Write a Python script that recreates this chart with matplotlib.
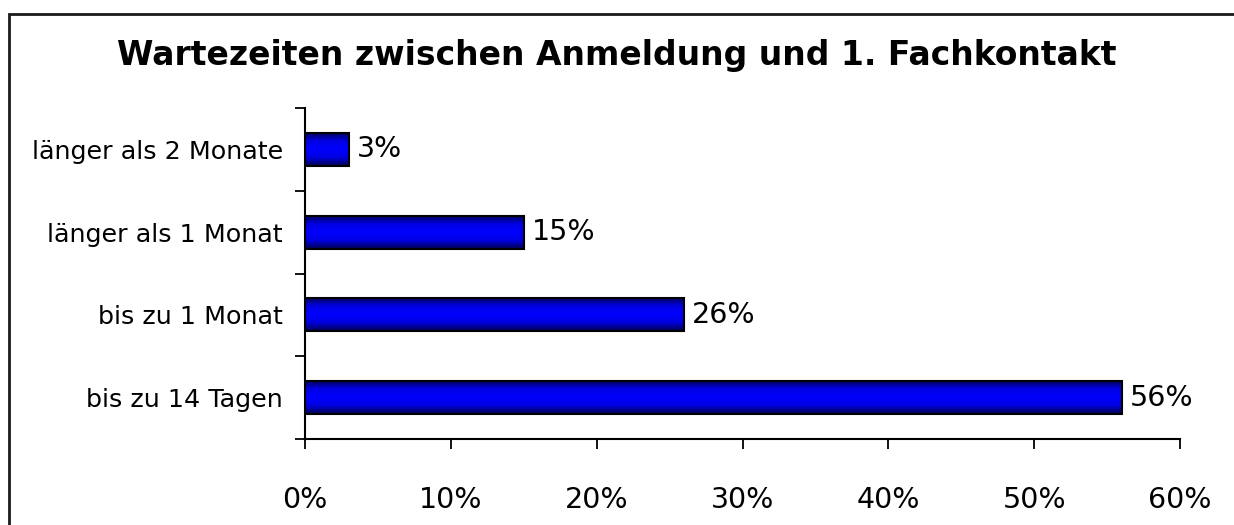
import numpy as np
import matplotlib
matplotlib.use("Agg")
import matplotlib.pyplot as plt
from matplotlib.patches import Rectangle
from matplotlib.colors import LinearSegmentedColormap

categories = ["bis zu 14 Tagen", "bis zu 1 Monat", "länger als 1 Monat", "länger als 2 Monate"]
values = [56, 26, 15, 3]
xticks = [0, 10, 20, 30, 40, 50, 60]
title = "Wartezeiten zwischen Anmeldung und 1. Fachkontakt"

W, H = 1234, 525
fig = plt.figure(figsize=(W / 100, H / 100), dpi=100)
fig.patch.set_facecolor("white")

# outer chart border (cut off at right and bottom like in the reference)
fig.add_artist(Rectangle((8.5 / W, -0.1), 1.2, (H - 13.5) / H + 0.1,
                         transform=fig.transFigure, fill=False,
                         edgecolor="#1a1a1a", linewidth=2.0))

left, right, top, bottom = 305, 1180, 108, 439
ax = fig.add_axes([left / W, 1 - bottom / H, (right - left) / W, (bottom - top) / H])

ypos = np.arange(len(categories))
bh = 0.4
cmap = LinearSegmentedColormap.from_list("g", ["#000050", "#0000e0", "#0000ff", "#0000e0", "#000050"])
grad = np.linspace(0, 1, 64).reshape(-1, 1)
for y, v in zip(ypos, values):
    ax.imshow(grad, cmap=cmap, aspect="auto", extent=(0, v, y - bh / 2, y + bh / 2),
              origin="lower", zorder=2, interpolation="bilinear")
    ax.barh(y, v, height=bh, facecolor="none", edgecolor="black", linewidth=1.5, zorder=3)
    ax.text(v + 0.55, y, f"{v}%", va="center", ha="left", fontsize=20.5, zorder=4)

ax.set_xlim(0, 60)
ax.set_ylim(-0.5, len(categories) - 0.5)
ax.set_xticks(xticks)
ax.set_xticklabels([f"{t}%" for t in xticks], fontsize=20.5)
ax.set_yticks(ypos)
ax.set_yticklabels(categories, fontsize=18.3)
ax.set_yticks(np.arange(-0.5, len(categories)), minor=True)
ax.tick_params(axis="y", which="major", length=0, pad=16)
ax.tick_params(axis="y", which="minor", length=7, width=1.3, direction="out")
ax.tick_params(axis="x", which="major", length=7, width=1.3, direction="out", pad=27)
for s in ["top", "right"]:
    ax.spines[s].set_visible(False)
for s in ["left", "bottom"]:
    ax.spines[s].set_linewidth(1.5)
ax.set_facecolor("white")

fig.text(617 / W, 1 - 55 / H, title, ha="center", va="center",
         fontsize=23.8, fontweight="bold")

fig.savefig("out.png", dpi=100)
